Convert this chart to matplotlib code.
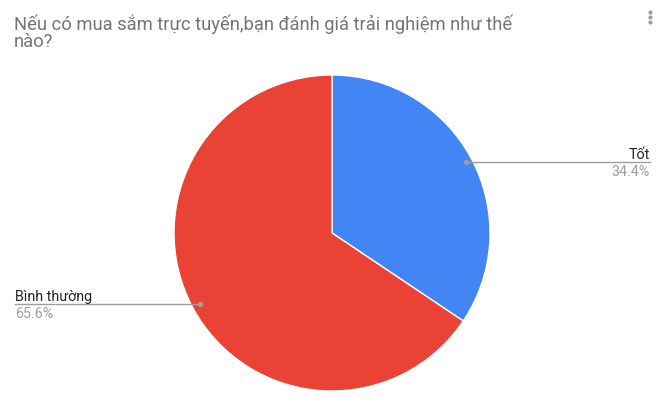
import matplotlib.pyplot as plt

plt.rcParams['font.family'] = ['Roboto', 'DejaVu Sans']

title = "Nếu có mua sắm trực tuyến,bạn đánh giá trải nghiệm như thế\nnào?"
labels = ["Tốt", "Bình thường"]
values = [34.4, 65.6]
colors = ['#4285F4', '#EA4335']

W, H = 664, 405
fig = plt.figure(figsize=(W / 100, H / 100), dpi=100)
ax = fig.add_axes([0, 0, 1, 1])
ax.set_xlim(0, W)
ax.set_ylim(0, H)
ax.set_aspect('equal')
ax.axis('off')

cx, cy, r = 332, H - 233, 158
ax.pie(values, colors=colors, startangle=90, counterclock=False,
       center=(cx, cy), radius=r, frame=True,
       wedgeprops=dict(edgecolor='white', linewidth=1))
ax.set_xlim(0, W)
ax.set_ylim(0, H)
ax.axis('off')

# leader lines and labels
gray = '#9e9e9e'
fs = 10.3
# Tốt (right)
ax.plot([466, 650], [H - 162, H - 162], color=gray, lw=1)
ax.plot(466, H - 162, 'o', color=gray, ms=3)
ax.text(650, H - 159, labels[0], ha='right', va='baseline', fontsize=fs, color='#222222')
ax.text(650, H - 165, f"{values[0]}%", ha='right', va='top', fontsize=fs, color=gray)
# Bình thường (left)
ax.plot([15, 200], [H - 304, H - 304], color=gray, lw=1)
ax.plot(200, H - 304, 'o', color=gray, ms=3)
ax.text(15, H - 301, labels[1], ha='left', va='baseline', fontsize=fs, color='#222222')
ax.text(15, H - 307, f"{values[1]}%", ha='left', va='top', fontsize=fs, color=gray)

fig.text(14 / W, 1 - 15 / H, title, ha='left', va='top', fontsize=13.2,
         color='#757575', linespacing=0.92)

# menu dots
for yy in [12, 17, 22]:
    ax.plot(650, H - yy, 'o', color='#9e9e9e', ms=2)

fig.savefig('out.png', dpi=100)
